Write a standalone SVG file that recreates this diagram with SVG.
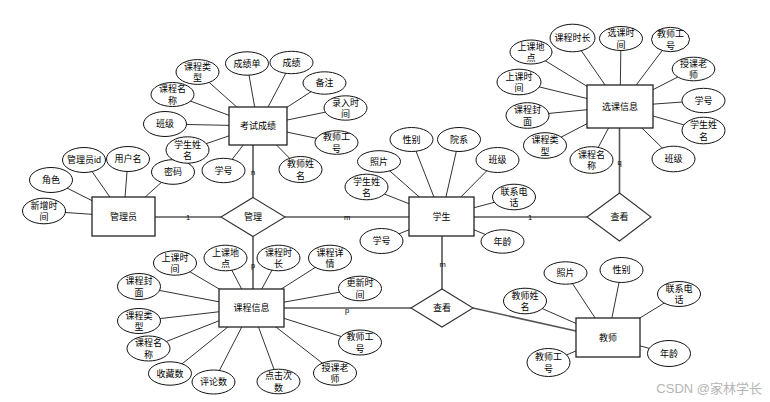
<svg xmlns="http://www.w3.org/2000/svg" width="770" height="402" viewBox="0 0 770 402">
<style>
text{font-family:"Liberation Sans","Noto Sans CJK SC",sans-serif;font-size:9px;fill:#000;text-anchor:middle;dominant-baseline:central}
.ent{fill:#fff;stroke:#222;stroke-width:1.3}
.rel{fill:#fff;stroke:#333;stroke-width:1.1}
.att{fill:#fff;stroke:#111;stroke-width:1}
.al{stroke:#333;stroke-width:1}
.rl{stroke:#555;stroke-width:1.6}
.card{font-size:7.5px}
.wm{font-size:13px;fill:#b5b5b5;text-anchor:end}
</style>
<rect width="770" height="402" fill="#fff"/>
<g id="connectors">
<!-- 管理员 attributes -->
<line class="al" x1="84" y1="160" x2="123.5" y2="216.5"/>
<line class="al" x1="128" y1="159" x2="123.5" y2="216.5"/>
<line class="al" x1="51" y1="180" x2="123.5" y2="216.5"/>
<line class="al" x1="44" y1="211" x2="123.5" y2="216.5"/>
<line class="al" x1="173" y1="172" x2="123.5" y2="216.5"/>
<!-- 考试成绩 attributes -->
<line class="al" x1="197.5" y1="72" x2="258" y2="126"/>
<line class="al" x1="247" y1="63.5" x2="258" y2="126"/>
<line class="al" x1="291.5" y1="62.5" x2="258" y2="126"/>
<line class="al" x1="324.5" y1="83" x2="258" y2="126"/>
<line class="al" x1="345.5" y1="108" x2="258" y2="126"/>
<line class="al" x1="336.5" y1="142.5" x2="258" y2="126"/>
<line class="al" x1="300.5" y1="169.5" x2="258" y2="126"/>
<line class="al" x1="223.5" y1="170.5" x2="258" y2="126"/>
<line class="al" x1="187.5" y1="150" x2="258" y2="126"/>
<line class="al" x1="165" y1="124" x2="258" y2="126"/>
<line class="al" x1="172.5" y1="94.5" x2="258" y2="126"/>
<!-- 选课信息 attributes -->
<line class="al" x1="572.5" y1="38" x2="620" y2="106.5"/>
<line class="al" x1="621" y1="38.5" x2="620" y2="106.5"/>
<line class="al" x1="670.5" y1="39.5" x2="620" y2="106.5"/>
<line class="al" x1="531" y1="52" x2="620" y2="106.5"/>
<line class="al" x1="519" y1="82" x2="620" y2="106.5"/>
<line class="al" x1="693.5" y1="69" x2="620" y2="106.5"/>
<line class="al" x1="703.5" y1="100.5" x2="620" y2="106.5"/>
<line class="al" x1="703.5" y1="130.5" x2="620" y2="106.5"/>
<line class="al" x1="673.5" y1="159" x2="620" y2="106.5"/>
<line class="al" x1="591.5" y1="160" x2="620" y2="106.5"/>
<line class="al" x1="545" y1="145.5" x2="620" y2="106.5"/>
<line class="al" x1="527.5" y1="115.5" x2="620" y2="106.5"/>
<!-- 学生 attributes -->
<line class="al" x1="411.5" y1="139.5" x2="441.5" y2="216.5"/>
<line class="al" x1="459" y1="139.5" x2="441.5" y2="216.5"/>
<line class="al" x1="379" y1="161.5" x2="441.5" y2="216.5"/>
<line class="al" x1="497.5" y1="160" x2="441.5" y2="216.5"/>
<line class="al" x1="366.5" y1="187" x2="441.5" y2="216.5"/>
<line class="al" x1="514" y1="197" x2="441.5" y2="216.5"/>
<line class="al" x1="381.5" y1="241" x2="441.5" y2="216.5"/>
<line class="al" x1="502.5" y1="241.5" x2="441.5" y2="216.5"/>
<!-- 课程信息 attributes -->
<line class="al" x1="175" y1="263" x2="251.5" y2="308"/>
<line class="al" x1="225.5" y1="258" x2="251.5" y2="308"/>
<line class="al" x1="278.5" y1="258" x2="251.5" y2="308"/>
<line class="al" x1="330" y1="258" x2="251.5" y2="308"/>
<line class="al" x1="360" y1="288.5" x2="251.5" y2="308"/>
<line class="al" x1="139" y1="286.5" x2="251.5" y2="308"/>
<line class="al" x1="139" y1="321" x2="251.5" y2="308"/>
<line class="al" x1="148.5" y1="348.5" x2="251.5" y2="308"/>
<line class="al" x1="170" y1="373.5" x2="251.5" y2="308"/>
<line class="al" x1="213.5" y1="382" x2="251.5" y2="308"/>
<line class="al" x1="278.5" y1="381.5" x2="251.5" y2="308"/>
<line class="al" x1="335" y1="373" x2="251.5" y2="308"/>
<line class="al" x1="360" y1="342.5" x2="251.5" y2="308"/>
<!-- 教师 attributes -->
<line class="al" x1="565.5" y1="273" x2="608" y2="337.5"/>
<line class="al" x1="621.5" y1="270" x2="608" y2="337.5"/>
<line class="al" x1="679" y1="294" x2="608" y2="337.5"/>
<line class="al" x1="525" y1="301" x2="608" y2="337.5"/>
<line class="al" x1="669" y1="353.5" x2="608" y2="337.5"/>
<line class="al" x1="548.5" y1="362.5" x2="608" y2="337.5"/>
<!-- relationship lines -->
<line class="rl" x1="155" y1="217" x2="221" y2="217"/>
<line class="rl" x1="285" y1="217" x2="409" y2="217"/>
<line class="rl" x1="253" y1="145" x2="253" y2="197.5"/>
<line class="rl" x1="253" y1="236.5" x2="253" y2="289"/>
<line class="rl" x1="474" y1="217" x2="587" y2="217"/>
<line class="rl" x1="619.5" y1="128" x2="619.5" y2="193"/>
<line class="rl" x1="442" y1="236" x2="442" y2="289"/>
<line class="rl" x1="284" y1="308" x2="411" y2="308"/>
<line class="rl" x1="473" y1="308" x2="576" y2="331"/>
<text class="card" x="188" y="217">1</text>
<text class="card" x="347" y="217">m</text>
<text class="card" x="253" y="172">n</text>
<text class="card" x="253" y="265">p</text>
<text class="card" x="530" y="217">1</text>
<text class="card" x="619.5" y="162">q</text>
<text class="card" x="442.5" y="264">m</text>
<text class="card" x="347" y="310">p</text>
</g>
<!-- entities -->
<g id="e-guanliyuan"><rect class="ent" x="92" y="197" width="63" height="39"/><text x="123.5" y="216.5">管理员</text></g>
<g id="e-kaoshichengji"><rect class="ent" x="229" y="107" width="58" height="38"/><text x="258" y="126">考试成绩</text></g>
<g id="e-xuankexinxi"><rect class="ent" x="587" y="85" width="66" height="43"/><text x="620" y="106.5">选课信息</text></g>
<g id="e-xuesheng"><rect class="ent" x="409" y="197" width="65" height="39"/><text x="441.5" y="216.5">学生</text></g>
<g id="e-kechengxinxi"><rect class="ent" x="219" y="289" width="65" height="38"/><text x="251.5" y="308">课程信息</text></g>
<g id="e-jiaoshi"><rect class="ent" x="576" y="318" width="64" height="39"/><text x="608" y="337.5">教师</text></g>
<!-- relationships -->
<g id="r-guanli"><polygon class="rel" points="221,217 253,197.5 285,217 253,236.5"/><text x="253" y="217">管理</text></g>
<g id="r-chakan1"><polygon class="rel" points="587,217 619.5,193 651,217 619.5,241"/><text x="619.5" y="217">查看</text></g>
<g id="r-chakan2"><polygon class="rel" points="411,308 442,289 473,308 442,327"/><text x="442" y="308">查看</text></g>
<!-- 管理员 attributes -->
<g id="a1-1"><ellipse class="att" cx="84" cy="160" rx="21.5" ry="12.5"/><text x="84" y="160">管理员id</text></g>
<g id="a1-2"><ellipse class="att" cx="128" cy="159" rx="21.5" ry="12.5"/><text x="128" y="159">用户名</text></g>
<g id="a1-3"><ellipse class="att" cx="51" cy="180" rx="21.5" ry="12.5"/><text x="51" y="180">角色</text></g>
<g id="a1-4"><ellipse class="att" cx="44" cy="211" rx="21.5" ry="12.8"/><text x="44" y="205.5">新增时</text><text x="44" y="217">间</text></g>
<g id="a1-5"><ellipse class="att" cx="173" cy="172" rx="21.5" ry="12.3"/><text x="173" y="172">密码</text></g>
<!-- 考试成绩 attributes -->
<g id="a2-1"><ellipse class="att" cx="197.5" cy="72" rx="21.5" ry="12.4"/><text x="197.5" y="66.5">课程类</text><text x="197.5" y="78">型</text></g>
<g id="a2-2"><ellipse class="att" cx="247" cy="63.5" rx="21.5" ry="11.7"/><text x="247" y="63.5">成绩单</text></g>
<g id="a2-3"><ellipse class="att" cx="291.5" cy="62.5" rx="21.5" ry="11.2"/><text x="291.5" y="62.5">成绩</text></g>
<g id="a2-4"><ellipse class="att" cx="324.5" cy="83" rx="21.5" ry="11.2"/><text x="324.5" y="83">备注</text></g>
<g id="a2-5"><ellipse class="att" cx="345.5" cy="108" rx="21.5" ry="12.2"/><text x="345.5" y="102.5">录入时</text><text x="345.5" y="114">间</text></g>
<g id="a2-6"><ellipse class="att" cx="336.5" cy="142.5" rx="21.5" ry="11.8"/><text x="336.5" y="137">教师工</text><text x="336.5" y="148.5">号</text></g>
<g id="a2-7"><ellipse class="att" cx="300.5" cy="169.5" rx="21.5" ry="13"/><text x="300.5" y="164">教师姓</text><text x="300.5" y="175.5">名</text></g>
<g id="a2-8"><ellipse class="att" cx="223.5" cy="170.5" rx="21.5" ry="12.2"/><text x="223.5" y="170.5">学号</text></g>
<g id="a2-9"><ellipse class="att" cx="187.5" cy="150" rx="21.5" ry="13.2"/><text x="187.5" y="144.5">学生姓</text><text x="187.5" y="156">名</text></g>
<g id="a2-10"><ellipse class="att" cx="165" cy="124" rx="21.5" ry="12.5"/><text x="165" y="124">班级</text></g>
<g id="a2-11"><ellipse class="att" cx="172.5" cy="94.5" rx="21.5" ry="12"/><text x="172.5" y="89">课程名</text><text x="172.5" y="100.5">称</text></g>
<!-- 选课信息 attributes -->
<g id="a3-1"><ellipse class="att" cx="572.5" cy="38" rx="22.5" ry="13.8"/><text x="572.5" y="38">课程时长</text></g>
<g id="a3-2"><ellipse class="att" cx="621" cy="38.5" rx="21.5" ry="12"/><text x="621" y="33">选课时</text><text x="621" y="44.5">间</text></g>
<g id="a3-3"><ellipse class="att" cx="670.5" cy="39.5" rx="19" ry="12.2"/><text x="670.5" y="34">教师工</text><text x="670.5" y="45.5">号</text></g>
<g id="a3-4"><ellipse class="att" cx="531" cy="52" rx="21" ry="12"/><text x="531" y="46.5">上课地</text><text x="531" y="58">点</text></g>
<g id="a3-5"><ellipse class="att" cx="519" cy="82" rx="22" ry="12.8"/><text x="519" y="76.5">上课时</text><text x="519" y="88">间</text></g>
<g id="a3-6"><ellipse class="att" cx="693.5" cy="69" rx="21.3" ry="11.8"/><text x="693.5" y="63.5">授课老</text><text x="693.5" y="75">师</text></g>
<g id="a3-7"><ellipse class="att" cx="703.5" cy="100.5" rx="21.5" ry="12.2"/><text x="703.5" y="100.5">学号</text></g>
<g id="a3-8"><ellipse class="att" cx="703.5" cy="130.5" rx="21.5" ry="13.3"/><text x="703.5" y="125">学生姓</text><text x="703.5" y="136.5">名</text></g>
<g id="a3-9"><ellipse class="att" cx="673.5" cy="159" rx="21.5" ry="12.8"/><text x="673.5" y="159">班级</text></g>
<g id="a3-10"><ellipse class="att" cx="591.5" cy="160" rx="21.5" ry="13.3"/><text x="591.5" y="154.5">课程名</text><text x="591.5" y="166">称</text></g>
<g id="a3-11"><ellipse class="att" cx="545" cy="145.5" rx="21.5" ry="12.8"/><text x="545" y="140">课程类</text><text x="545" y="151.5">型</text></g>
<g id="a3-12"><ellipse class="att" cx="527.5" cy="115.5" rx="21.5" ry="12.8"/><text x="527.5" y="110">课程封</text><text x="527.5" y="121.5">面</text></g>
<!-- 学生 attributes -->
<g id="a4-1"><ellipse class="att" cx="411.5" cy="139.5" rx="21.5" ry="12"/><text x="411.5" y="139.5">性别</text></g>
<g id="a4-2"><ellipse class="att" cx="459" cy="139.5" rx="21.5" ry="12"/><text x="459" y="139.5">院系</text></g>
<g id="a4-3"><ellipse class="att" cx="379" cy="161.5" rx="21.5" ry="10.8"/><text x="379" y="161.5">照片</text></g>
<g id="a4-4"><ellipse class="att" cx="497.5" cy="160" rx="21.5" ry="12.5"/><text x="497.5" y="160">班级</text></g>
<g id="a4-5"><ellipse class="att" cx="366.5" cy="187" rx="21.5" ry="12.8"/><text x="366.5" y="181.5">学生姓</text><text x="366.5" y="193">名</text></g>
<g id="a4-6"><ellipse class="att" cx="514" cy="197" rx="21.5" ry="12.8"/><text x="514" y="191.5">联系电</text><text x="514" y="203">话</text></g>
<g id="a4-7"><ellipse class="att" cx="381.5" cy="241" rx="21.5" ry="12.5"/><text x="381.5" y="241">学号</text></g>
<g id="a4-8"><ellipse class="att" cx="502.5" cy="241.5" rx="21.5" ry="11.7"/><text x="502.5" y="241.5">年龄</text></g>
<!-- 课程信息 attributes -->
<g id="a5-1"><ellipse class="att" cx="175" cy="263" rx="21.5" ry="12.2"/><text x="175" y="257.5">上课时</text><text x="175" y="269">间</text></g>
<g id="a5-2"><ellipse class="att" cx="225.5" cy="258" rx="21.5" ry="12.8"/><text x="225.5" y="252.5">上课地</text><text x="225.5" y="264">点</text></g>
<g id="a5-3"><ellipse class="att" cx="278.5" cy="258" rx="21.5" ry="12.8"/><text x="278.5" y="252.5">课程时</text><text x="278.5" y="264">长</text></g>
<g id="a5-4"><ellipse class="att" cx="330" cy="258" rx="21.5" ry="12.8"/><text x="330" y="252.5">课程详</text><text x="330" y="264">情</text></g>
<g id="a5-5"><ellipse class="att" cx="360" cy="288.5" rx="21.5" ry="12.3"/><text x="360" y="283">更新时</text><text x="360" y="294.5">间</text></g>
<g id="a5-6"><ellipse class="att" cx="139" cy="286.5" rx="21.5" ry="13"/><text x="139" y="281">课程封</text><text x="139" y="292.5">面</text></g>
<g id="a5-7"><ellipse class="att" cx="139" cy="321" rx="21.5" ry="12.5"/><text x="139" y="315.5">课程类</text><text x="139" y="327">型</text></g>
<g id="a5-8"><ellipse class="att" cx="148.5" cy="348.5" rx="21.5" ry="12.5"/><text x="148.5" y="343">课程名</text><text x="148.5" y="354.5">称</text></g>
<g id="a5-9"><ellipse class="att" cx="170" cy="373.5" rx="21.5" ry="11.7"/><text x="170" y="373.5">收藏数</text></g>
<g id="a5-10"><ellipse class="att" cx="213.5" cy="382" rx="21.5" ry="12"/><text x="213.5" y="382">评论数</text></g>
<g id="a5-11"><ellipse class="att" cx="278.5" cy="381.5" rx="21.5" ry="12.3"/><text x="278.5" y="376">点击次</text><text x="278.5" y="387.5">数</text></g>
<g id="a5-12"><ellipse class="att" cx="335" cy="373" rx="21.5" ry="12.2"/><text x="335" y="367.5">授课老</text><text x="335" y="379">师</text></g>
<g id="a5-13"><ellipse class="att" cx="360" cy="342.5" rx="21.5" ry="12.5"/><text x="360" y="337">教师工</text><text x="360" y="348.5">号</text></g>
<!-- 教师 attributes -->
<g id="a6-1"><ellipse class="att" cx="565.5" cy="273" rx="21.5" ry="11.2"/><text x="565.5" y="273">照片</text></g>
<g id="a6-2"><ellipse class="att" cx="621.5" cy="270" rx="21.5" ry="12.5"/><text x="621.5" y="270">性别</text></g>
<g id="a6-3"><ellipse class="att" cx="679" cy="294" rx="21.5" ry="12.5"/><text x="679" y="288.5">联系电</text><text x="679" y="300">话</text></g>
<g id="a6-4"><ellipse class="att" cx="525" cy="301" rx="21.5" ry="12.8"/><text x="525" y="295.5">教师姓</text><text x="525" y="307">名</text></g>
<g id="a6-5"><ellipse class="att" cx="669" cy="353.5" rx="21.5" ry="13"/><text x="669" y="353.5">年龄</text></g>
<g id="a6-6"><ellipse class="att" cx="548.5" cy="362.5" rx="21.5" ry="14"/><text x="548.5" y="357">教师工</text><text x="548.5" y="368.5">号</text></g>
<text class="wm" x="762" y="388.5">CSDN @家林学长</text>
</svg>
